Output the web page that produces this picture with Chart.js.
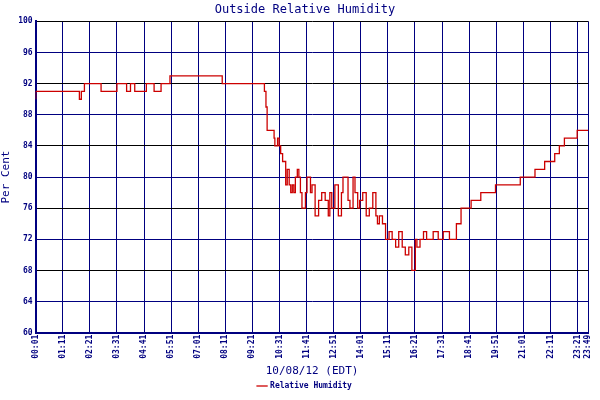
<!DOCTYPE html>
<html><head><meta charset="utf-8">
<script src="https://cdn.jsdelivr.net/npm/chart.js@4"></script>
<style>html,body{margin:0;background:#fff}#w{width:600px;height:400px}</style>
</head><body><div id="w"><canvas id="c"></canvas></div>
<script>
// time in minutes since midnight, relative humidity (%)
const times = [1,114,119,127,170,211,236,246,257,287,307,325,348,483,
 592,596,599,600,617,619,622,626,630,634,639,647,651,656,660,664,668,672,677,681,685,689,698,702,711,715,723,732,740,749,757,761,766,774,783,791,795,808,813,821,826,833,838,846,855,863,872,880,884,889,897,905,914,922,931,939,948,956,965,973,982,986,994,1003,1011,1028,1041,
 1054,1070,1088,1100,1126,1151,1189,1253,1291,1316,1342,1354,1367,1400,1429];
const humidity = [90,91,90,91,92,91,92,91,92,91,92,91,92,93,
 92,91,89,86,86,85,84,84,85,84,83,82,79,81,79,78,79,78,80,81,80,78,76,78,80,78,79,75,77,78,77,75,78,76,79,75,78,80,77,76,80,78,76,77,78,75,76,78,75,74,75,74,72,73,72,71,73,71,70,71,68,72,71,72,73,72,73,
 72,73,72,74,76,77,78,79,80,81,82,83,84,85,86];
const xTicks = [1,71,141,211,281,351,421,491,561,631,701,771,841,911,981,1051,1121,1191,1261,1331,1401,1429];
const yTicks = [60,64,68,72,76,80,84,88,92,96,100];

const navy = '#000080';
const fmt = m => String(Math.floor(m/60)).padStart(2,'0')+':'+String(m%60).padStart(2,'0');
const tickFont = {family:'DejaVu Sans Mono', size:8, weight:'bold'};
new Chart(document.getElementById('c'), {
  type:'line',
  data:{datasets:[{label:'Relative Humidity', data: times.map((t,i)=>({x:t,y:humidity[i]})),
    borderColor:'#cc0000', backgroundColor:'#cc0000', borderWidth:1.3, pointRadius:0, stepped:'after', fill:false}]},
  options:{
    responsive:true, maintainAspectRatio:false, animation:false,
    layout:{padding:{left:0,right:-10,top:1,bottom:0}},
    plugins:{
      title:{display:true, text:'Outside Relative Humidity', color:navy, font:{family:'DejaVu Sans Mono', size:12, weight:'normal'}, padding:{top:2,bottom:4}},
      legend:{position:'bottom', labels:{color:navy, font:{family:'DejaVu Sans Mono', size:8, weight:'bold'}, usePointStyle:true, pointStyle:'line', boxWidth:14, padding:4}},
      tooltip:{enabled:false}
    },
    scales:{
      x:{type:'linear', min:1, max:1429,
        afterBuildTicks: a => { a.ticks = xTicks.map(v=>({value:v})); },
        ticks:{color:navy, font:tickFont, maxRotation:90, minRotation:90, autoSkip:false, callback:v=>fmt(v), padding:2},
        grid:{color:navy, lineWidth:1, drawTicks:false},
        border:{color:navy, width:2},
        title:{display:true, text:'10/08/12 (EDT)', color:navy, font:{family:'DejaVu Sans Mono', size:11}, padding:{top:4,bottom:0}}
      },
      y:{min:60, max:100,
        afterBuildTicks: a => { a.ticks = yTicks.map(v=>({value:v})); },
        ticks:{color:navy, font:tickFont, padding:3},
        grid:{color: c => (c.tick && c.tick.value % 8 === 4) ? '#000000' : navy, lineWidth:1, drawTicks:false},
        border:{color:navy, width:2},
        title:{display:true, text:'Per Cent', color:navy, font:{family:'DejaVu Sans Mono', size:11}, padding:{top:0,bottom:2}}
      }
    }
  }
});
</script></body></html>
